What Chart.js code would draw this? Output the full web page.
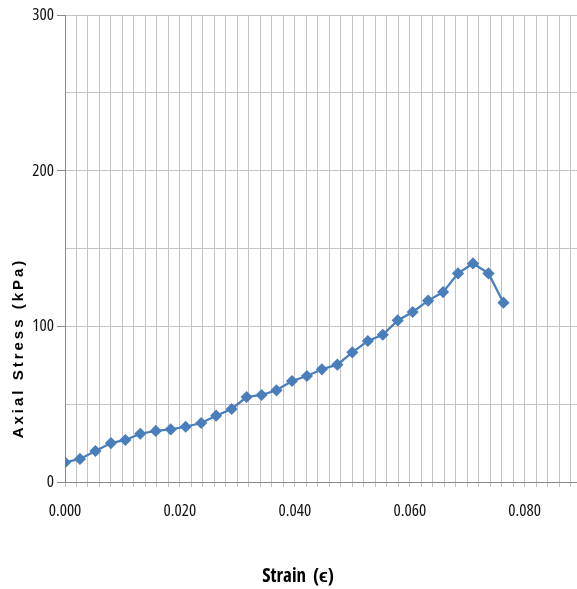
<!DOCTYPE html>
<html>
<head>
<meta charset="utf-8">
<script src="https://cdn.jsdelivr.net/npm/chart.js@4.4.0/dist/chart.umd.min.js"></script>
<style>
  html, body { margin: 0; padding: 0; background: #fff; overflow: hidden; }
</style>
</head>
<body>
<canvas id="myChart" width="577" height="589"></canvas>
<script>
'use strict';
// strain values (x) and axial stress (kPa)
let strain = [0.0000, 0.0026, 0.0053, 0.0080, 0.0105, 0.0131, 0.0158, 0.0184, 0.0210, 0.0237,
    0.0263, 0.0290, 0.0316, 0.0342, 0.0368, 0.0395, 0.0421, 0.0447, 0.0474, 0.0500,
    0.0527, 0.0553, 0.0579, 0.0605, 0.0632, 0.0658, 0.0684, 0.0710, 0.0737, 0.0763]
let stress = [12.6, 14.8, 19.9, 25.0, 27.0, 31.0, 32.8, 33.8, 35.5, 37.9,
    42.6, 46.9, 54.6, 55.9, 58.9, 64.9, 68.1, 72.4, 75.4, 83.3,
    90.6, 94.6, 103.8, 109.2, 116.5, 122.0, 134.0, 140.4, 134.0, 115.2]
let xTickLabels = [0.000, 0.020, 0.040, 0.060, 0.080]
let yTickLabels = [0, 100, 200, 300]
let xTitle = 'Strain  (\u03F5)'
let yTitle = 'Axial Stress (kPa)'

let xMax = 0.0891
let xStep = 0.002

let points = []
for (let i = 0; i < strain.length; i++) {
    points.push({ x: strain[i], y: stress[i] })
}

function isLabelled(v, list) {
    for (let i = 0; i < list.length; i++) {
        if (Math.abs(v - list[i]) < 1e-7) return true
    }
    return false
}

// titles drawn by hand so they sit where the original puts them
const axisTitles = {
    id: 'axisTitles',
    afterDraw(chart) {
        let ctx = chart.ctx
        ctx.save()
        ctx.fillStyle = '#000'
        ctx.textAlign = 'center'
        ctx.textBaseline = 'middle'
        ctx.font = 'bold condensed 19px "Open Sans", sans-serif'
        ctx.fillText(xTitle, 298, 577)
        ctx.translate(19, 348)
        ctx.rotate(-Math.PI / 2)
        ctx.font = 'bold 15px "Liberation Sans", Arial, sans-serif'
        ctx.letterSpacing = '3px'
        ctx.fillText(yTitle, 0, 0)
        ctx.restore()
    }
}

// 'condensed' goes in front of the size in the font string
const tickFont = { family: '"Open Sans", sans-serif', size: 17, weight: 'condensed' }

var ctx = document.getElementById('myChart').getContext('2d');
var myChart = new Chart(ctx, {
    type: 'scatter',
    data: {
        datasets: [{
            data: points,
            showLine: true,
            borderColor: '#4a7ebb',
            backgroundColor: '#4a7ebb',
            borderWidth: 2.25,
            pointStyle: 'rectRot',
            pointRadius: 4.5,
            pointHoverRadius: 4.5,
            tension: 0
        }]
    },
    options: {
        responsive: false,
        animation: false,
        layout: { autoPadding: false, padding: { top: 15, right: 0, bottom: 0, left: 0 } },
        plugins: {
            legend: { display: false },
            tooltip: { enabled: false }
        },
        scales: {
            x: {
                type: 'linear',
                min: 0,
                max: xMax,
                grid: { color: '#c4c4c4', lineWidth: 1, tickLength: 5 },
                border: { color: '#898989' },
                // keep every 0.002 gridline, including the one right before the edge
                afterBuildTicks: function (scale) {
                    let t = []
                    for (let i = 0; i * xStep <= xMax + 1e-9; i++) {
                        t.push({ value: Math.round(i * xStep * 1000) / 1000 })
                    }
                    scale.ticks = t
                },
                afterFit: function (scale) {
                    scale.height = 107
                    scale.paddingLeft = 0
                    scale.paddingRight = 0
                },
                ticks: {
                    autoSkip: false,
                    maxRotation: 0,
                    padding: 14,
                    color: '#111',
                    font: tickFont,
                    callback: function (v) {
                        return isLabelled(v, xTickLabels) ? v.toFixed(3) : ''
                    }
                }
            },
            y: {
                min: 0,
                max: 300,
                grid: {
                    color: '#c4c4c4',
                    lineWidth: 1,
                    tickLength: 8,
                    tickColor: function (c) {
                        return isLabelled(c.tick.value, yTickLabels) ? '#898989' : 'rgba(0,0,0,0)'
                    }
                },
                border: { color: '#898989' },
                afterFit: function (scale) {
                    scale.width = 65
                    scale.paddingTop = 0
                    scale.paddingBottom = 0
                },
                ticks: {
                    stepSize: 50,
                    autoSkip: false,
                    padding: 3,
                    color: '#111',
                    font: tickFont,
                    callback: function (v) {
                        return isLabelled(v, yTickLabels) ? String(v) : ''
                    }
                }
            }
        }
    },
    plugins: [axisTitles]
});
</script>
</body>
</html>
